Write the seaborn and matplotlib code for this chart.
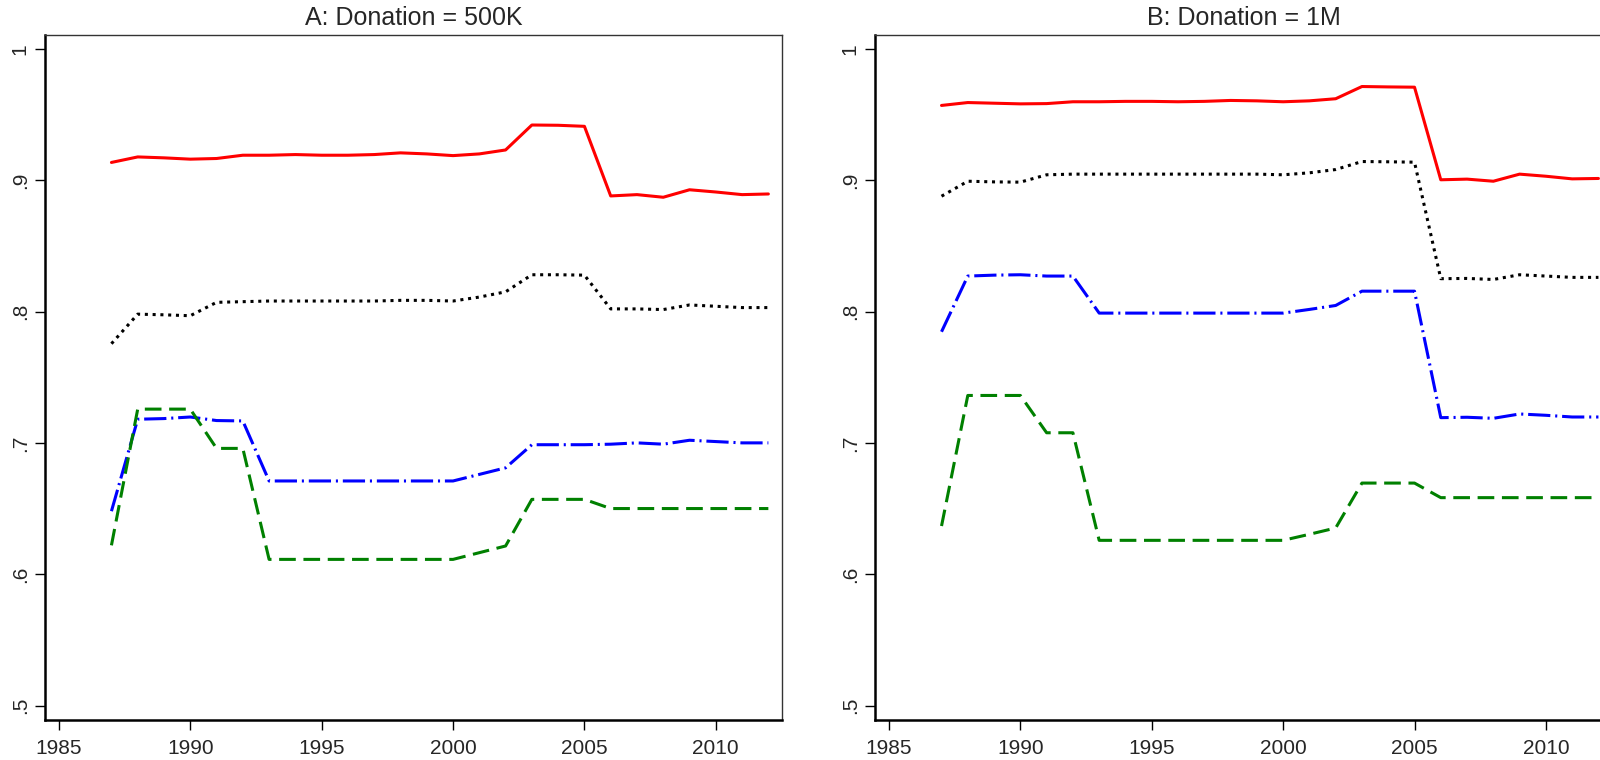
import pandas as pd
import matplotlib
matplotlib.use("Agg")
import matplotlib.pyplot as plt
import seaborn as sns

# years on the x axis
years = list(range(1987, 2013))

# Panel A: Donation = 500K
a_red = [0.9135, 0.9177, 0.917, 0.916, 0.9165, 0.919, 0.919, 0.9195, 0.919, 0.919,
         0.9195, 0.9208, 0.920, 0.9187, 0.920, 0.923, 0.942, 0.9418, 0.941, 0.888,
         0.889, 0.887, 0.8927, 0.891, 0.889, 0.8895]
a_black = [0.7755, 0.798, 0.7975, 0.7968, 0.807, 0.8075, 0.808, 0.808, 0.808, 0.808,
           0.808, 0.8085, 0.8085, 0.808, 0.811, 0.815, 0.828, 0.828, 0.8277, 0.802,
           0.802, 0.8015, 0.805, 0.804, 0.803, 0.803]
a_blue = [0.648, 0.718, 0.7185, 0.7197, 0.717, 0.7167, 0.671, 0.671, 0.671, 0.671,
          0.671, 0.671, 0.671, 0.671, 0.676, 0.681, 0.6986, 0.6986, 0.6986, 0.699,
          0.700, 0.699, 0.702, 0.701, 0.700, 0.700]
a_green = [0.622, 0.7257, 0.7257, 0.7257, 0.6958, 0.6958, 0.6113, 0.6113, 0.6113, 0.6113,
           0.6113, 0.6113, 0.6113, 0.6113, 0.6164, 0.6215, 0.657, 0.657, 0.657, 0.650,
           0.650, 0.650, 0.650, 0.650, 0.650, 0.650]

# Panel B: Donation = 1M
b_red = [0.9569, 0.9591, 0.9586, 0.9581, 0.9583, 0.9597, 0.9597, 0.960, 0.960, 0.9597,
         0.960, 0.9607, 0.9604, 0.9597, 0.9604, 0.962, 0.9713, 0.971, 0.9708, 0.9003,
         0.9008, 0.8992, 0.9046, 0.903, 0.901, 0.9013]
b_black = [0.8878, 0.8992, 0.8987, 0.8985, 0.9041, 0.9046, 0.9046, 0.9046, 0.9046, 0.9046,
           0.9046, 0.9046, 0.9046, 0.9041, 0.9056, 0.9081, 0.9142, 0.914, 0.9137, 0.825,
           0.8252, 0.8244, 0.828, 0.827, 0.826, 0.826]
b_blue = [0.7846, 0.827, 0.8277, 0.828, 0.827, 0.827, 0.7988, 0.7988, 0.7988, 0.7988,
          0.7988, 0.7988, 0.7988, 0.7988, 0.8016, 0.8046, 0.8155, 0.8155, 0.8155, 0.7192,
          0.7195, 0.7187, 0.722, 0.721, 0.7197, 0.7197]
b_green = [0.6367, 0.7361, 0.7361, 0.7361, 0.7077, 0.7077, 0.6258, 0.6258, 0.6258, 0.6258,
           0.6258, 0.6258, 0.6258, 0.6258, 0.6304, 0.6352, 0.6694, 0.6694, 0.6694, 0.6583,
           0.6583, 0.6583, 0.6583, 0.6583, 0.6583, 0.6583]

titles = ["A: Donation = 500K", "B: Donation = 1M"]
series_names = ["red", "black", "blue", "green"]
x_ticks = [1985, 1990, 1995, 2000, 2005, 2010]
y_ticks = [0.5, 0.6, 0.7, 0.8, 0.9, 1.0]
y_tick_labels = [".5", ".6", ".7", ".8", ".9", "1"]

palette = {"red": "#ff0000", "black": "#000000", "blue": "#0000ff", "green": "#008000"}
dashes = {"red": "", "black": (2.2, 3.4), "blue": (16, 3.5, 1.5, 3.5), "green": (12, 5.5)}


def long_frame(red, black, blue, green):
    parts = []
    for name, vals in zip(series_names, [red, black, blue, green]):
        parts.append(pd.DataFrame({"year": years, "value": vals, "series": name}))
    return pd.concat(parts, ignore_index=True)


sns.set_style("white")
plt.rcParams["font.family"] = ["Liberation Sans", "DejaVu Sans"]
plt.rcParams["lines.scale_dashes"] = False

fig = plt.figure(figsize=(16, 7.6), dpi=100)
panels = [long_frame(a_red, a_black, a_blue, a_green),
          long_frame(b_red, b_black, b_blue, b_green)]
lefts = [0.0281, 0.5469]

for left, df, title in zip(lefts, panels, titles):
    ax = fig.add_axes([left, 0.0526, 0.4605, 0.9013])
    sns.lineplot(data=df, x="year", y="value", hue="series", style="series",
                 palette=palette, dashes=dashes, linewidth=2.2, legend=False, ax=ax)
    ax.set_xlim(1984.47, 2012.51)
    ax.set_ylim(0.489, 1.0105)
    ax.set_xticks(x_ticks)
    ax.set_yticks(y_ticks)
    ax.set_yticklabels(y_tick_labels, rotation=90, va="center")
    ax.tick_params(axis="x", direction="out", length=7, width=1.0,
                   labelsize=15, pad=7, color="black", bottom=True)
    ax.tick_params(axis="y", direction="out", length=7, width=1.0,
                   labelsize=15, pad=4, color="black", left=True)
    ax.set_xlabel("")
    ax.set_ylabel("")
    for side in ["left", "bottom"]:
        ax.spines[side].set_linewidth(1.8)
        ax.spines[side].set_color("black")
    for side in ["top", "right"]:
        ax.spines[side].set_linewidth(1.0)
        ax.spines[side].set_color("#333333")
    ax.set_title(title, fontsize=18, pad=7,
                 family=["Liberation Sans", "DejaVu Sans"])

fig.savefig("out.png", dpi=100)
